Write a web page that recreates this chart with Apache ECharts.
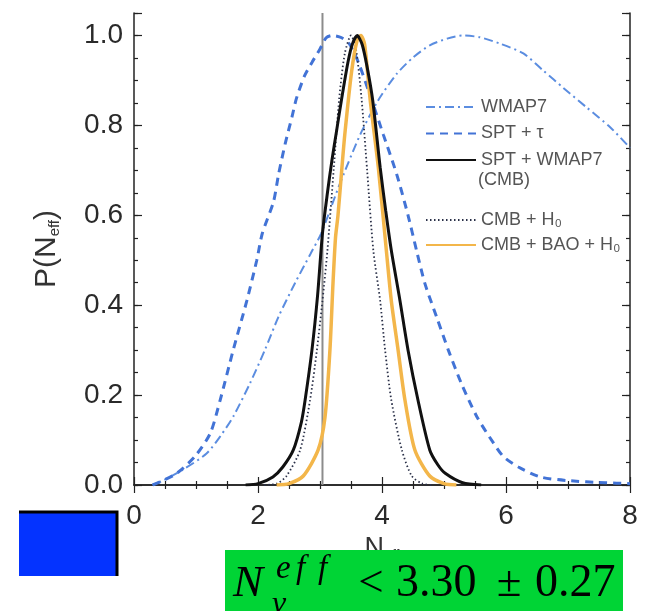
<!DOCTYPE html>
<html>
<head>
<meta charset="utf-8">
<script src="https://cdn.jsdelivr.net/npm/echarts@6/dist/echarts.min.js"></script>
<style>
html,body{margin:0;padding:0;background:#fff;}
#chart{width:654px;height:611px;}
</style>
</head>
<body>
<div id="chart"></div>
<script>
// ---- data ----
const seriesNames = ['WMAP7', 'SPT + τ', 'SPT + WMAP7', 'CMB + H₀', 'CMB + BAO + H₀'];

const wmap7X = [0.3, 0.47, 0.8, 1.17, 1.4, 1.6, 1.87, 2.11, 2.33, 2.6, 2.85, 3.02, 3.32, 3.65, 3.94, 4.24, 4.5, 4.77, 5.05, 5.3, 5.58, 5.9, 6.28, 6.6, 6.92, 7.3, 7.68, 8.0];
const wmap7Y = [0.0, 0.01, 0.035, 0.07, 0.11, 0.152, 0.226, 0.30, 0.374, 0.45, 0.515, 0.56, 0.67, 0.78, 0.856, 0.915, 0.951, 0.978, 0.993, 1.0, 0.996, 0.982, 0.96, 0.922, 0.884, 0.84, 0.796, 0.75];

const sptTauX = [0.3, 0.47, 0.69, 0.98, 1.23, 1.39, 1.6, 1.82, 1.98, 2.07, 2.25, 2.33, 2.44, 2.55, 2.62, 2.75, 2.87, 3.0, 3.1, 3.2, 3.35, 3.48, 3.62, 3.8, 4.02, 4.24, 4.42, 4.56, 4.69, 4.88, 5.07, 5.28, 5.53, 5.8, 5.96, 6.2, 6.55, 6.98, 7.6, 8.0];
const sptTauY = [0.0, 0.01, 0.026, 0.063, 0.115, 0.189, 0.30, 0.41, 0.5, 0.56, 0.63, 0.69, 0.76, 0.82, 0.86, 0.91, 0.94, 0.97, 0.995, 1.0, 0.995, 0.98, 0.94, 0.87, 0.78, 0.69, 0.60, 0.52, 0.449, 0.374, 0.30, 0.226, 0.152, 0.093, 0.063, 0.04, 0.018, 0.01, 0.005, 0.003];

const cmbX = [1.8, 2.0, 2.24, 2.4, 2.57, 2.7, 2.76, 2.87, 2.96, 3.04, 3.12, 3.19, 3.27, 3.35, 3.45, 3.52, 3.6, 3.68, 3.76, 3.85, 3.97, 4.06, 4.15, 4.29, 4.42, 4.58, 4.77, 4.9, 5.02, 5.3, 5.6];
const cmbY = [0.0, 0.003, 0.018, 0.04, 0.078, 0.14, 0.189, 0.30, 0.42, 0.56, 0.65, 0.72, 0.79, 0.86, 0.94, 0.98, 1.0, 0.98, 0.93, 0.856, 0.707, 0.61, 0.522, 0.41, 0.30, 0.189, 0.078, 0.045, 0.026, 0.005, 0.0];

const cmbH0X = [2.1, 2.3, 2.46, 2.68, 2.84, 2.95, 3.04, 3.12, 3.22, 3.31, 3.4, 3.5, 3.58, 3.67, 3.76, 3.86, 3.97, 4.05, 4.15, 4.32, 4.48, 4.65, 4.8];
const cmbH0Y = [0.0, 0.003, 0.02, 0.078, 0.189, 0.30, 0.41, 0.522, 0.7, 0.86, 0.96, 1.0, 0.97, 0.86, 0.7, 0.522, 0.41, 0.30, 0.189, 0.078, 0.02, 0.003, 0.0];

const cmbBaoX = [2.3, 2.5, 2.73, 2.97, 3.08, 3.16, 3.21, 3.25, 3.29, 3.35, 3.40, 3.51, 3.6, 3.66, 3.72, 3.81, 3.94, 4.07, 4.15, 4.26, 4.37, 4.53, 4.77, 5.0, 5.2];
const cmbBaoY = [0.0, 0.003, 0.02, 0.078, 0.15, 0.30, 0.45, 0.55, 0.6, 0.7, 0.78, 0.92, 0.99, 1.0, 0.98, 0.856, 0.707, 0.522, 0.41, 0.30, 0.189, 0.078, 0.02, 0.003, 0.0];

const refN = 3.04;           // vertical grey reference line
const xMin = 0, xMax = 8, xStep = 2;
const yMin = 0, yMax = 1.05, yStep = 0.2, yMinorStep = 0.05;
const yTickLabels = ['0.0', '0.2', '0.4', '0.6', '0.8', '1.0'];

// ---- chart ----
function pairs(xs, ys) { return xs.map((x, i) => [x, ys[i]]); }

const chart = echarts.init(document.getElementById('chart'), null, { renderer: 'canvas' });
const frame = { show: true, lineStyle: { color: '#222', width: 1.5 } };
const labelFont = 'Liberation Sans, Arial, sans-serif';
const serif = 'Liberation Serif, serif';

const xBase = {
  type: 'value', min: xMin, max: xMax, interval: xStep,
  axisLine: frame,
  axisTick: { show: true, inside: true, length: 8, lineStyle: { color: '#222', width: 1.2 } },
  minorTick: { show: true, splitNumber: 4, length: 4, lineStyle: { color: '#222', width: 1.2 } },
  splitLine: { show: false }, minorSplitLine: { show: false }
};
const yMajor = {
  type: 'value', min: yMin, max: yMax, interval: yStep,
  axisLine: frame,
  axisTick: { show: true, inside: true, length: 8, lineStyle: { color: '#222', width: 1.2 } },
  splitLine: { show: false }
};
const yMinor = {
  type: 'value', min: yMin, max: yMax, interval: yMinorStep,
  axisLine: { show: false },
  axisTick: { show: true, inside: true, length: 4, lineStyle: { color: '#222', width: 1.2 } },
  axisLabel: { show: false },
  splitLine: { show: false }
};

const lineSeries = (name, xs, ys, color, width, type, z) => ({
  name, type: 'line', data: pairs(xs, ys), symbol: 'none', smooth: 0.25,
  xAxisIndex: 0, yAxisIndex: 0, z,
  lineStyle: { color, width, type }, itemStyle: { color }
});

const legendBase = {
  orient: 'vertical', left: 420, itemWidth: 50, itemHeight: 14,
  selectedMode: false, padding: 5,
  itemStyle: { opacity: 0 },
  textStyle: { fontSize: 18, color: '#555', fontFamily: labelFont }
};

const option = {
  animation: false,
  backgroundColor: '#fff',
  grid: { left: 134, right: 24, top: 13, bottom: 126, containLabel: false, outerBoundsMode: 'none' },
  xAxis: [
    Object.assign({}, xBase, {
      position: 'bottom',
      axisLabel: { show: true, fontSize: 28, color: '#2a2a2a', fontFamily: labelFont, margin: 17 },
      name: 'N{s|eff}', nameLocation: 'middle', nameGap: 50,
      nameTextStyle: { fontSize: 27, color: '#333', fontFamily: labelFont,
        rich: { s: { fontSize: 14, color: '#333', fontFamily: labelFont, padding: [14, 0, 0, 0] } } }
    }),
    Object.assign({}, xBase, { position: 'top', axisLabel: { show: false } })
  ],
  yAxis: [
    Object.assign({}, yMajor, {
      position: 'left',
      axisLabel: {
        show: true, fontSize: 28, color: '#2a2a2a', fontFamily: labelFont, margin: 11,
        formatter: v => { const i = Math.round(v / yStep); return Math.abs(v - i * yStep) < 1e-6 ? yTickLabels[i] : ''; }
      },
      name: 'P(N{s|eff})', nameLocation: 'middle', nameGap: 72, nameRotate: 90,
      nameTextStyle: { fontSize: 30, color: '#333', fontFamily: labelFont,
        rich: { s: { fontSize: 15, color: '#333', fontFamily: labelFont, padding: [16, 0, 0, 0] } } }
    }),
    Object.assign({}, yMinor, { position: 'left' }),
    Object.assign({}, yMajor, { position: 'right', axisLabel: { show: false } }),
    Object.assign({}, yMinor, { position: 'right' })
  ],
  legend: [
    Object.assign({}, legendBase, {
      data: [seriesNames[0], seriesNames[1], seriesNames[2]], top: 93, itemGap: 8.5
    }),
    Object.assign({}, legendBase, {
      data: [seriesNames[3], seriesNames[4]], top: 206, itemGap: 7
    })
  ],
  series: [
    { name: 'ref', type: 'line', data: [[refN, yMin], [refN, yMax]], symbol: 'none', z: 1,
      lineStyle: { color: '#8c8c8c', width: 2 }, itemStyle: { color: '#8c8c8c' } },
    lineSeries(seriesNames[0], wmap7X, wmap7Y, '#5b8de0', 2, [9, 4, 2, 4], 2),
    lineSeries(seriesNames[1], sptTauX, sptTauY, '#4273d6', 3, [8, 6], 3),
    lineSeries(seriesNames[3], cmbH0X, cmbH0Y, '#2a3048', 1.8, [1.5, 2.5], 4),
    lineSeries(seriesNames[4], cmbBaoX, cmbBaoY, '#f3b64a', 3.5, 'solid', 5),
    lineSeries(seriesNames[2], cmbX, cmbY, '#111111', 3, 'solid', 6)
  ],
  graphic: [
    { type: 'text', left: 478, top: 171, z: 100,
      style: { text: '(CMB)', fontSize: 18, fill: '#555', fontFamily: labelFont } },
    { type: 'rect', shape: { x: 19, y: 511, width: 99, height: 65 }, z: 100,
      style: { fill: '#0433ff' } },
    { type: 'polyline', shape: { points: [[19, 512], [117, 512], [117, 576]] }, z: 101,
      style: { stroke: '#000', lineWidth: 3, fill: null } },
    { type: 'rect', shape: { x: 225, y: 550, width: 398, height: 61 }, z: 100,
      style: { fill: '#00d435' } },
    { type: 'text', x: 233, y: 584, z: 101,
      style: { text: 'N', fontSize: 45, fontStyle: 'italic', fontFamily: serif, fill: '#000', verticalAlign: 'middle', align: 'left' } },
    { type: 'text', x: 276, y: 569, z: 101,
      style: { text: 'e', fontSize: 33, fontStyle: 'italic', fontFamily: serif, fill: '#000', verticalAlign: 'middle', align: 'left' } },
    { type: 'text', x: 296, y: 569, z: 101,
      style: { text: 'f', fontSize: 33, fontStyle: 'italic', fontFamily: serif, fill: '#000', verticalAlign: 'middle', align: 'left' } },
    { type: 'text', x: 318, y: 569, z: 101,
      style: { text: 'f', fontSize: 33, fontStyle: 'italic', fontFamily: serif, fill: '#000', verticalAlign: 'middle', align: 'left' } },
    { type: 'text', x: 272, y: 605, z: 101,
      style: { text: 'ν', fontSize: 32, fontStyle: 'italic', fontFamily: serif, fill: '#000', verticalAlign: 'middle', align: 'left' } },
    { type: 'text', x: 371, y: 584, z: 101,
      style: { text: '<', fontSize: 45, fontFamily: serif, fill: '#000', verticalAlign: 'middle', align: 'center' } },
    { type: 'text', x: 396, y: 584, z: 101,
      style: { text: '3.30', fontSize: 46, fontFamily: serif, fill: '#000', verticalAlign: 'middle', align: 'left' } },
    { type: 'text', x: 509, y: 584, z: 101,
      style: { text: '±', fontSize: 45, fontFamily: serif, fill: '#000', verticalAlign: 'middle', align: 'center' } },
    { type: 'text', x: 535, y: 584, z: 101,
      style: { text: '0.27', fontSize: 46, fontFamily: serif, fill: '#000', verticalAlign: 'middle', align: 'left' } }
  ]
};
chart.setOption(option);
</script>
</body>
</html>
